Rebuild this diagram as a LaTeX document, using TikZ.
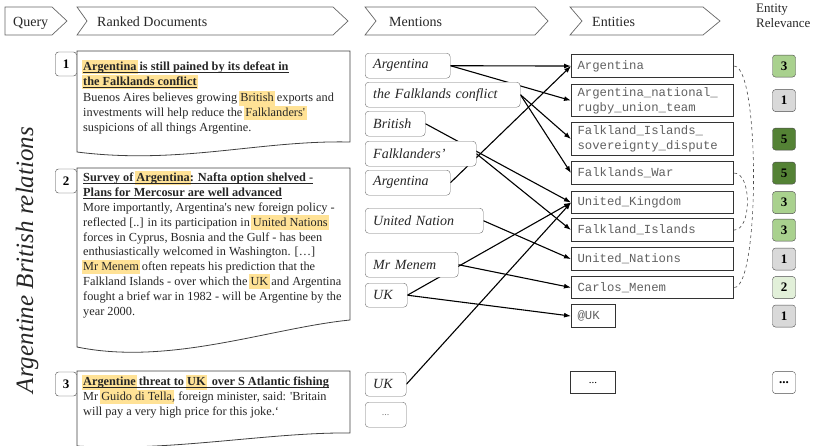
\documentclass[tikz,border=0pt]{standalone}
\usepackage{fontspec}
\setmainfont{Liberation Serif}
\setmonofont{Liberation Mono}
\usepackage{xcolor}
\usetikzlibrary{arrows.meta, positioning, calc, backgrounds}

\definecolor{hlcol}{RGB}{255,226,150}
\definecolor{relgreen}{RGB}{169,209,142}
\definecolor{reldark}{RGB}{84,130,53}
\definecolor{rellight}{RGB}{226,240,217}
\definecolor{relgray}{RGB}{217,217,217}
\definecolor{inkgray}{RGB}{38,38,38}

% highlighted word (box keeps the size of the text)
\newsavebox{\hlbox}
\newsavebox{\ulbox}
\newcommand{\hlword}[1]{\sbox{\hlbox}{#1}\rlap{\kern-1.5pt\color{hlcol}\vrule width \dimexpr\wd\hlbox+3pt\relax height 11pt depth 3.6pt}\usebox{\hlbox}}
% underline close to the baseline
\newcommand{\ulline}[1]{\sbox{\ulbox}{#1}\usebox{\ulbox}\llap{\vrule width \wd\ulbox height -1.0pt depth 1.7pt}}

\tikzset{
    stage/.style={
        draw=black!60, line width=0.7pt, fill=white
    },
    stagetext/.style={
        anchor=base west, inner sep=0pt, font=\fontsize{14}{16}\selectfont, text=inkgray
    },
    docpage/.style={
        draw=black!75, line width=0.8pt, fill=white
    },
    doctext/.style={
        anchor=base west, inner sep=0pt, align=left, font=\fontsize{12.3}{14.8}\selectfont, text=inkgray
    },
    docnum/.style={
        draw=black!75, rounded corners=3pt, fill=white, minimum width=21pt, minimum height=24pt,
        inner sep=0pt, font=\fontsize{13}{15}\selectfont\bfseries
    },
    mention/.style={
        draw=black!55, rounded corners=3.5pt, fill=white, anchor=north west, minimum height=25pt,
        inner xsep=8pt, inner ysep=0pt, align=left, font=\fontsize{14}{16}\selectfont\itshape, text=inkgray
    },
    entity/.style={
        draw=black!80, line width=1.1pt, fill=white, anchor=north west, minimum height=23pt,
        inner xsep=6pt, inner ysep=0pt, align=left, font=\fontsize{12.3}{15}\selectfont\ttfamily, text=black!62
    },
    relbox/.style={
        draw=black!70, rounded corners=3pt, minimum width=23pt, minimum height=22pt,
        inner sep=0pt, font=\fontsize{13}{15}\selectfont\bfseries
    },
    link/.style={
        line width=1.1pt, -{Latex[length=7pt, width=5pt]}
    },
    relation/.style={
        dashed, line width=0.6pt, draw=black!70
    }
}

\begin{document}
\begin{tikzpicture}[x=1pt, y=-1pt]
    \useasboundingbox (0,0) rectangle (818,445);

    % stages
    \draw[stage] (5,7) -- (52,7) -- (67,21) -- (52,35) -- (5,35) -- cycle;
    \node[stagetext] (hquery) at (13,26) {Query};
    \draw[stage] (77,7) -- (333,7) -- (348,21) -- (333,35) -- (77,35) -- (87,21) -- cycle;
    \node[stagetext] (hdocs) at (97,26) {Ranked Documents};
    \draw[stage] (365,7) -- (535,7) -- (548,21) -- (535,35) -- (365,35) -- (376,21) -- cycle;
    \node[stagetext] (hment) at (389,26) {Mentions};
    \draw[stage] (570,7) -- (703,7) -- (720,21) -- (703,35) -- (570,35) -- (582,21) -- cycle;
    \node[stagetext] (hent) at (592,26) {Entities};
    \node[anchor=north west, inner sep=0pt, align=left, font=\fontsize{13}{15}\selectfont, text=inkgray] (hrel) at (756,4) {Entity\\Relevance};

    \node[rotate=90, font=\fontsize{25}{25}\selectfont\itshape, text=inkgray] (topic) at (27,260) {Argentine British relations};

    % ranked documents (text nodes sit on the baseline of their last line)
    \draw[docpage] (77,51) -- (350,51) -- (350,142) .. controls (260,140) and (180,165) .. (77,152) -- cycle;
    \node[doctext] (d1text) at (83,131.5) {\ulline{\textbf{\hlword{Argentina} is still pained by its defeat in}}\\
        \ulline{\textbf{\hlword{the Falklands conflict}}}\\[1.5pt]
        Buenos Aires believes growing \hlword{British} exports and\\
        investments will help reduce the \hlword{Falklanders\textquotesingle}\\
        suspicions of all things Argentine.};
    \node[docnum] (d1num) at (66,64) {1};

    \draw[docpage] (77,168) -- (350,168) -- (350,320) .. controls (270,328) and (170,366) .. (77,347) -- cycle;
    \node[doctext] (d2text) at (83,315) {\ulline{\textbf{Survey of \hlword{Argentina}: Nafta option shelved -}}\\
        \ulline{\textbf{Plans for Mercosur are well advanced}}\\
        More importantly, Argentina\textquotesingle s new foreign policy -\\
        reflected [..] in its participation in \hlword{United Nations}\\
        forces in Cyprus, Bosnia and the Gulf - has been\\
        enthusiastically welcomed in Washington. […]\\
        \hlword{Mr Menem} often repeats his prediction that the\\
        Falkland Islands - over which the \hlword{UK} and Argentina\\
        fought a brief war in 1982 - will be Argentine by the\\
        year 2000.};
    \node[docnum] (d2num) at (66,181) {2};

    \draw[docpage] (77,371) -- (350,371) -- (350,433) .. controls (270,432) and (170,452) .. (77,446) -- cycle;
    \node[doctext] (d3text) at (83,415.5) {\ulline{\textbf{\hlword{Argentine} threat to \hlword{UK}~ over S Atlantic fishing}}\\
        Mr \hlword{Guido di Tella}, foreign minister, said: \textquotesingle Britain\\
        will pay a very high price for this joke.‘};
    \node[docnum] (d3num) at (66,384) {3};

    % mentions
    \node[mention, text width=69pt] (m1) at (365,53) {Argentina};
    \node[mention, text width=139pt] (m2) at (365,82) {the Falklands conflict};
    \node[mention, text width=44pt] (m3) at (365,111) {British};
    \node[mention, text width=95pt] (m4) at (365,141) {Falklanders'};
    \node[mention, text width=69pt] (m5) at (365,170) {Argentina};
    \node[mention, text width=102pt] (m6) at (365,208) {United Nation};
    \node[mention, text width=77pt] (m7) at (365,252) {Mr Menem};
    \node[mention, text width=26pt, minimum height=24pt] (m8) at (365,283) {UK};
    \node[mention, text width=25pt, minimum height=24pt] (m9) at (365,372) {UK};
    \node[mention, text width=25pt, align=center, font=\fontsize{10}{12}\selectfont, text=black!50] (m10) at (365,402) {...};

    % entities
    \node[entity, text width=150pt] (e1) at (571,54) {Argentina};
    \node[entity, text width=150pt, minimum height=32pt] (e2) at (571,84) {Argentina\_national\_\\rugby\_union\_team};
    \node[entity, text width=150pt, minimum height=33pt] (e3) at (571,122) {Falkland\_Islands\_\\sovereignty\_dispute};
    \node[entity, text width=150pt] (e4) at (571,161) {Falklands\_War};
    \node[entity, text width=150pt, minimum height=22pt] (e5) at (571,191) {United\_Kingdom};
    \node[entity, text width=150pt] (e6) at (571,218) {Falkland\_Islands};
    \node[entity, text width=150pt] (e7) at (571,247) {United\_Nations};
    \node[entity, text width=150pt, minimum height=22pt] (e8) at (571,276) {Carlos\_Menem};
    \node[entity, text width=32pt] (e9) at (571,304) {@UK};
    \node[entity, text width=33pt, minimum height=22pt, align=center, font=\fontsize{11}{13}\selectfont, text=black] (e10) at (570,371) {...};

    % entity relevance
    \coordinate (relcol) at (784,0);
    \node[relbox, fill=relgreen] (r1) at (e1 -| relcol) {3};
    \node[relbox, fill=relgray] (r2) at (e2 -| relcol) {1};
    \node[relbox, fill=reldark] (r3) at (e3 -| relcol) {5};
    \node[relbox, fill=reldark] (r4) at (e4 -| relcol) {5};
    \node[relbox, fill=relgreen] (r5) at (e5 -| relcol) {3};
    \node[relbox, fill=relgreen] (r6) at (e6 -| relcol) {3};
    \node[relbox, fill=relgray] (r7) at (e7 -| relcol) {1};
    \node[relbox, fill=rellight] (r8) at (e8 -| relcol) {2};
    \node[relbox, fill=relgray] (r9) at (e9 -| relcol) {1};
    \node[relbox, fill=white] (r10) at (e10 -| relcol) {...};

    % mention -> entity links
    \begin{scope}[on background layer]
        \draw[link] (m1.east) -- (e1.west);
        \draw[link] (m1.east) -- (e2.west);
        \draw[link] (m2.east) -- (e3.west);
        \draw[link] (m2.east) -- (e4.west);
        \draw[link] (m3.east) -- (e5.west);
        \draw[link] (m4.east) -- (e6.west);
        \draw[link] (m5.east) -- (e1.west);
        \draw[link] (m6.east) -- (e7.west);
        \draw[link] (m7.east) -- (e8.west);
        \draw[link] (m8.east) -- (e5.west);
        \draw[link] (m8.east) -- (e9.west);
        \draw[link] (m9.east) -- (e5.west);
    \end{scope}

    % entity relations
    \draw[relation] (e1.east) to[out=0, in=0, looseness=0.3] (e8.east);
    \draw[relation] (e4.east) to[out=0, in=0, looseness=0.8] (e6.east);
\end{tikzpicture}
\end{document}
